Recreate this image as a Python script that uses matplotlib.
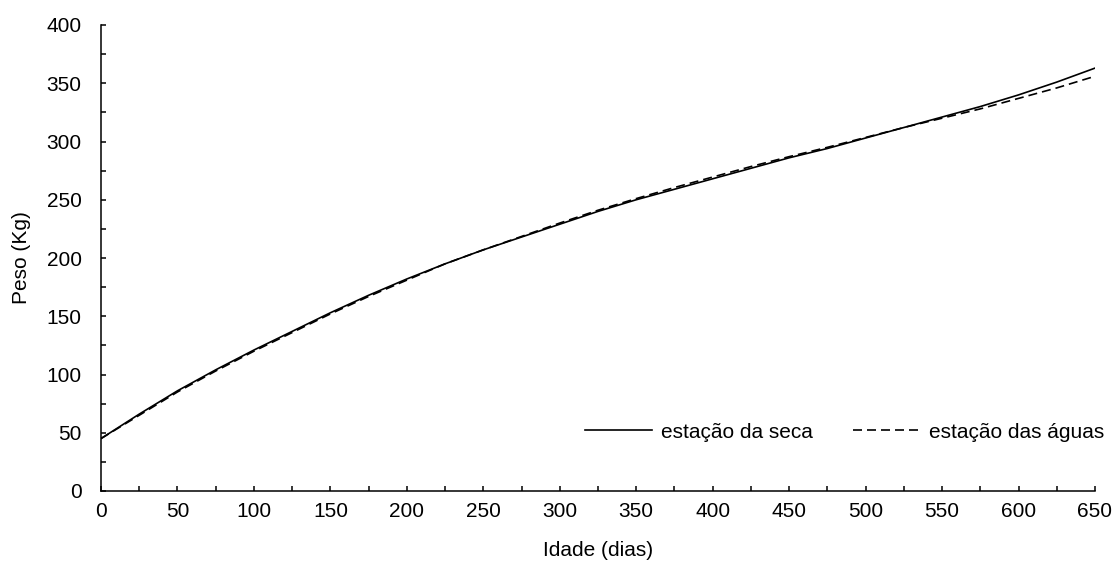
import numpy as np
import matplotlib
matplotlib.use("Agg")
import matplotlib.pyplot as plt
from matplotlib.ticker import MultipleLocator

# dados
idade = [0, 25, 50, 75, 100, 125, 150, 175, 200, 225, 250, 275, 300, 325,
         350, 375, 400, 425, 450, 475, 500, 525, 550, 575, 600, 625, 650]
peso_seca = [45, 66, 86, 104, 121, 137, 153, 168, 182, 195, 207, 218, 229, 240,
             250, 259, 268, 277, 286, 294, 303, 312, 321, 330, 340, 351, 363]
peso_aguas = [45, 65, 85, 103, 120, 136, 152, 167, 181, 195, 207, 218.5, 230, 241,
              251, 260.5, 269.5, 278.5, 287, 295, 303.5, 312, 320, 328, 337, 346, 356]

plt.rcParams['font.family'] = ['Liberation Sans', 'DejaVu Sans']
plt.rcParams['font.size'] = 15

fig = plt.figure(figsize=(11.15, 5.64), dpi=100)
ax = fig.add_axes([101/1115, 1-491/564, 994/1115, 466/564])

ax.plot(idade, peso_seca, color='k', lw=1.2, label='estação da seca')
ax.plot(idade, peso_aguas, color='k', lw=1.2, dashes=(5.4, 3), label='estação das águas')

ax.set_xlim(0, 650)
ax.set_ylim(0, 400)
ax.xaxis.set_major_locator(MultipleLocator(50))
ax.xaxis.set_minor_locator(MultipleLocator(25))
ax.yaxis.set_major_locator(MultipleLocator(50))
ax.yaxis.set_minor_locator(MultipleLocator(25))

for s in ['top', 'right']:
    ax.spines[s].set_visible(False)
for s in ['left', 'bottom']:
    ax.spines[s].set_linewidth(1.1)

ax.tick_params(which='both', direction='in', length=3.8, width=1.1)
ax.tick_params(axis='y', which='major', pad=14)
ax.tick_params(axis='x', which='major', pad=8)

ax.set_xlabel('Idade (dias)', labelpad=14)
ax.set_ylabel('Peso (Kg)', labelpad=11)

ax.legend(loc='center right', bbox_to_anchor=(1104/1115, 1-432/564),
          bbox_transform=fig.transFigure, ncol=2, frameon=False,
          handlelength=3.2, handletextpad=0.45, columnspacing=1.9,
          borderpad=0, borderaxespad=0)

fig.savefig('out.png', dpi=100)
